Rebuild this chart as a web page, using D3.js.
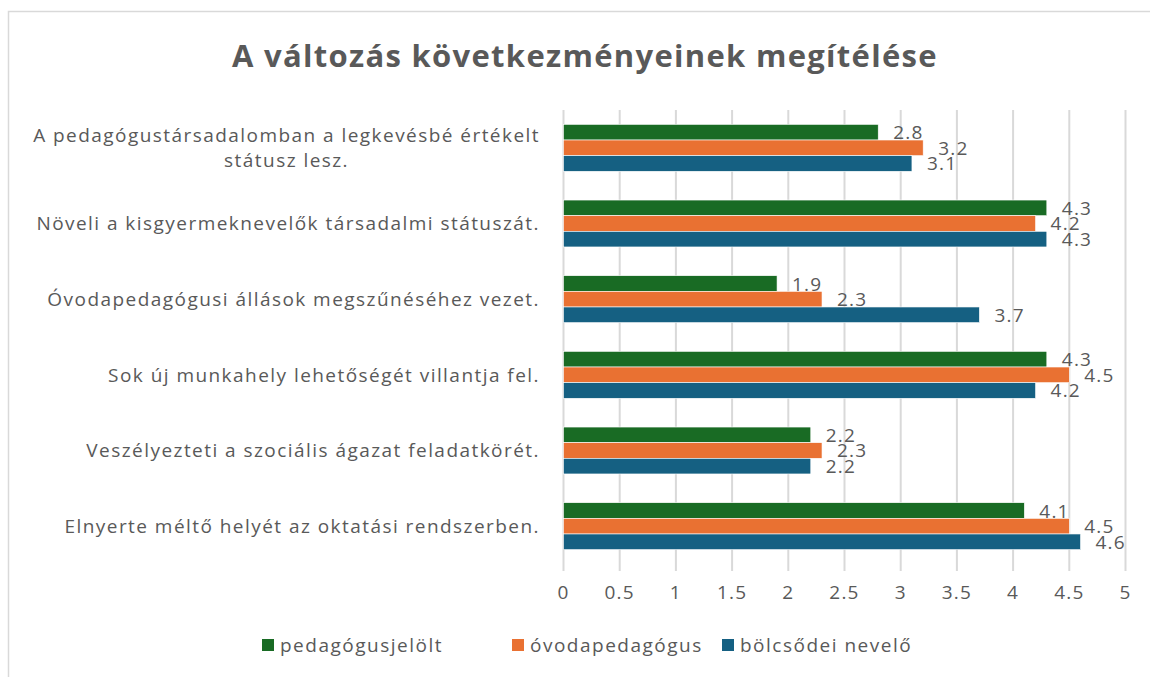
<!DOCTYPE html>
<html>
<head>
<meta charset="utf-8">
<script src="https://cdn.jsdelivr.net/npm/d3@7"></script>
<style>
  body { margin: 0; background: #fff; }
  text { font-family: "Open Sans", "Noto Sans", sans-serif; fill: #595959; }
</style>
</head>
<body>
<svg id="chart" width="1150" height="677"></svg>
<script>
const categories = [
  ['A pedagógustársadalomban a legkevésbé értékelt', 'státusz lesz.'],
  ['Növeli a kisgyermeknevelők társadalmi státuszát.'],
  ['Óvodapedagógusi állások megszűnéséhez vezet.'],
  ['Sok új munkahely lehetőségét villantja fel.'],
  ['Veszélyezteti a szociális ágazat feladatkörét.'],
  ['Elnyerte méltő helyét az oktatási rendszerben.']
];
const seriesNames = ['pedagógusjelölt', 'óvodapedagógus', 'bölcsődei nevelő'];
const pedagogusjelolt = [2.8, 4.3, 1.9, 4.3, 2.2, 4.1];
const ovodapedagogus = [3.2, 4.2, 2.3, 4.5, 2.3, 4.5];
const bolcsodeiNevelo = [3.1, 4.3, 3.7, 4.2, 2.2, 4.6];
const xTicks = [0, 0.5, 1, 1.5, 2, 2.5, 3, 3.5, 4, 4.5, 5];
const colors = ['#196B24', '#E97132', '#156082'];

const series = [pedagogusjelolt, ovodapedagogus, bolcsodeiNevelo];

const svg = d3.select('#chart');
const margin = { left: 563.5, right: 24.5, top: 110, bottom: 113 };
const width = 1150, height = 677;
const fontSize = '19px';
const spacing = '1.2px';

// chart frame
svg.append('rect')
  .attr('x', 8.5).attr('y', 11.5)
  .attr('width', 1160).attr('height', 680)
  .attr('fill', 'none')
  .attr('stroke', '#d9d9d9')
  .attr('stroke-width', 1.5);

svg.append('text')
  .attr('x', 585).attr('y', 67)
  .attr('text-anchor', 'middle')
  .style('font-size', '31px')
  .style('font-weight', 'bold')
  .style('letter-spacing', '1.3px')
  .text('A változás következményeinek megítélése');

const x = d3.scaleLinear().domain([0, 5]).range([margin.left, width - margin.right]);
const y = d3.scaleBand()
  .domain(d3.range(categories.length))
  .range([margin.top, height - margin.bottom])
  .paddingInner(0.38).paddingOuter(0.19);
const ySub = d3.scaleBand().domain(d3.range(series.length)).range([0, y.bandwidth()]);

// gridlines
svg.append('g')
  .selectAll('line')
  .data(xTicks)
  .join('line')
  .attr('x1', d => x(d)).attr('x2', d => x(d))
  .attr('y1', margin.top).attr('y2', height - margin.bottom + 7)
  .attr('stroke', '#d9d9d9')
  .attr('stroke-width', 2);

// tick labels
svg.append('g')
  .selectAll('text')
  .data(xTicks)
  .join('text')
  .attr('x', d => x(d))
  .attr('y', 599)
  .attr('text-anchor', 'middle')
  .style('font-size', fontSize)
  .style('letter-spacing', spacing)
  .text(d => d);

// bars
const groups = svg.append('g')
  .selectAll('g')
  .data(categories)
  .join('g')
  .attr('transform', (d, i) => `translate(0, ${y(i)})`);

groups.each(function(d, i) {
  const g = d3.select(this);
  series.forEach((vals, s) => {
    g.append('rect')
      .attr('x', x(0))
      .attr('y', ySub(s))
      .attr('width', x(vals[i]) - x(0))
      .attr('height', ySub.bandwidth())
      .attr('fill', colors[s])
      .attr('stroke', '#ffffff')
      .attr('stroke-width', 0.6);
    g.append('text')
      .attr('x', x(vals[i]) + 15)
      .attr('y', ySub(s) + ySub.bandwidth() / 2 + 7)
      .style('font-size', fontSize)
      .style('letter-spacing', spacing)
      .text(vals[i]);
  });
});

// category labels
const labelRight = 540;
groups.each(function(lines, i) {
  const g = d3.select(this);
  const cy = y.bandwidth() / 2;
  const lineH = 25;
  const texts = lines.map((line, k) => g.append('text')
    .attr('y', cy + (k - (lines.length - 1) / 2) * lineH + 7)
    .style('font-size', fontSize)
    .style('letter-spacing', '1.45px')
    .text(line));
  const widths = texts.map(t => t.node().getComputedTextLength());
  const maxW = d3.max(widths);
  texts.forEach((t, k) => {
    t.attr('x', labelRight - maxW / 2).attr('text-anchor', 'middle');
  });
});

// legend
const legendX = [262, 512, 722];
const legend = svg.append('g')
  .selectAll('g')
  .data(seriesNames)
  .join('g')
  .attr('transform', (d, i) => `translate(${legendX[i]}, 645)`);
legend.append('rect')
  .attr('x', 0).attr('y', -6)
  .attr('width', 12).attr('height', 12)
  .attr('fill', (d, i) => colors[i]);
legend.append('text')
  .attr('x', 18).attr('y', 7)
  .style('font-size', fontSize)
  .style('letter-spacing', '1.5px')
  .text(d => d);
</script>
</body>
</html>
